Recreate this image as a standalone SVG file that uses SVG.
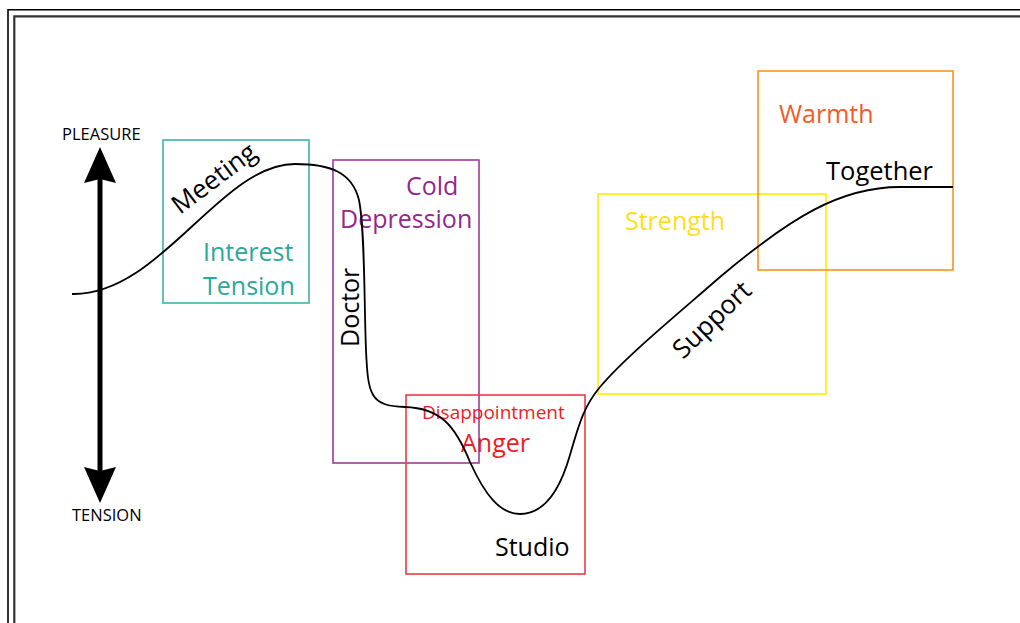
<svg xmlns="http://www.w3.org/2000/svg" width="1020" height="623" viewBox="0 0 1020 623">
<style>
text{font-family:"Open Sans","Noto Sans",sans-serif;}
.box{fill:none;stroke-width:1.6;}
.lbl{font-size:25px;}
.blk{fill:#000;}
.axis{font-size:16.5px;fill:#000;}
</style>
<rect width="1020" height="623" fill="#fff"/>
<g id="frame" fill="none">
<path d="M8,623 V9.7 H1020" stroke="#000" stroke-width="1.6"/>
<path d="M14.3,623 V16.4 H1020" stroke="#333" stroke-width="2.2"/>
</g>
<g id="axis">
<rect x="97.5" y="178" width="5" height="294" fill="#000"/>
<path d="M100,147 L116,183 L100,179 L84,183 Z" fill="#000"/>
<path d="M100,503 L116,467 L100,471 L84,467 Z" fill="#000"/>
<text class="axis" x="62" y="140">PLEASURE</text>
<text class="axis" x="72" y="521">TENSION</text>
</g>
<g id="node-interest">
<rect class="box" x="163" y="140" width="146" height="163" stroke="#3cb4a9"/>
<text class="lbl" x="203" y="261" fill="#2aa89c">Interest</text>
<text class="lbl" x="203" y="295" fill="#2aa89c">Tension</text>
</g>
<g id="node-depression">
<rect class="box" x="333" y="160" width="146" height="303" stroke="#9c3d9c"/>
<text class="lbl" x="406" y="195" fill="#93278f">Cold</text>
<text class="lbl" x="340" y="228" fill="#93278f">Depression</text>
</g>
<g id="node-anger">
<rect class="box" x="406" y="395" width="179" height="179" stroke="#ee3a43"/>
<text x="422" y="419" font-size="19" fill="#ed1c24">Disappointment</text>
<text class="lbl" x="461" y="452" fill="#ed1c24">Anger</text>
<text class="lbl blk" x="495" y="556">Studio</text>
</g>
<g id="node-strength">
<rect class="box" x="598" y="194" width="228" height="200" stroke="#ffed00"/>
<text class="lbl" x="625" y="230" fill="#ffde17">Strength</text>
</g>
<g id="node-warmth">
<rect class="box" x="758" y="71" width="195" height="199" stroke="#f7941d"/>
<text class="lbl" x="779" y="123" fill="#f15a29">Warmth</text>
<text x="826" y="180" font-size="25.5" fill="#000">Together</text>
</g>
<g id="connectors">
<path d="M72,294 C160,296 220,164 295,164 C330,164 352,172 359,200 C365,230 364,300 366,350 C368,395 370,406 405,407 C440,408 455,425 470,462 C485,495 500,514 520,514 C545,514 560,490 570,455 C580,420 585,405 600,387 C625,357 680,312 720,277 C790,218 840,187 900,187 L953,187" fill="none" stroke="#000" stroke-width="1.8"/>
<text class="blk" font-size="26" transform="translate(180,215) rotate(-37)">Meeting</text>
<text class="lbl blk" transform="translate(359,347) rotate(-90)">Doctor</text>
<text class="blk" font-size="26" transform="translate(683,360) rotate(-44)">Support</text>
</g>
</svg>
